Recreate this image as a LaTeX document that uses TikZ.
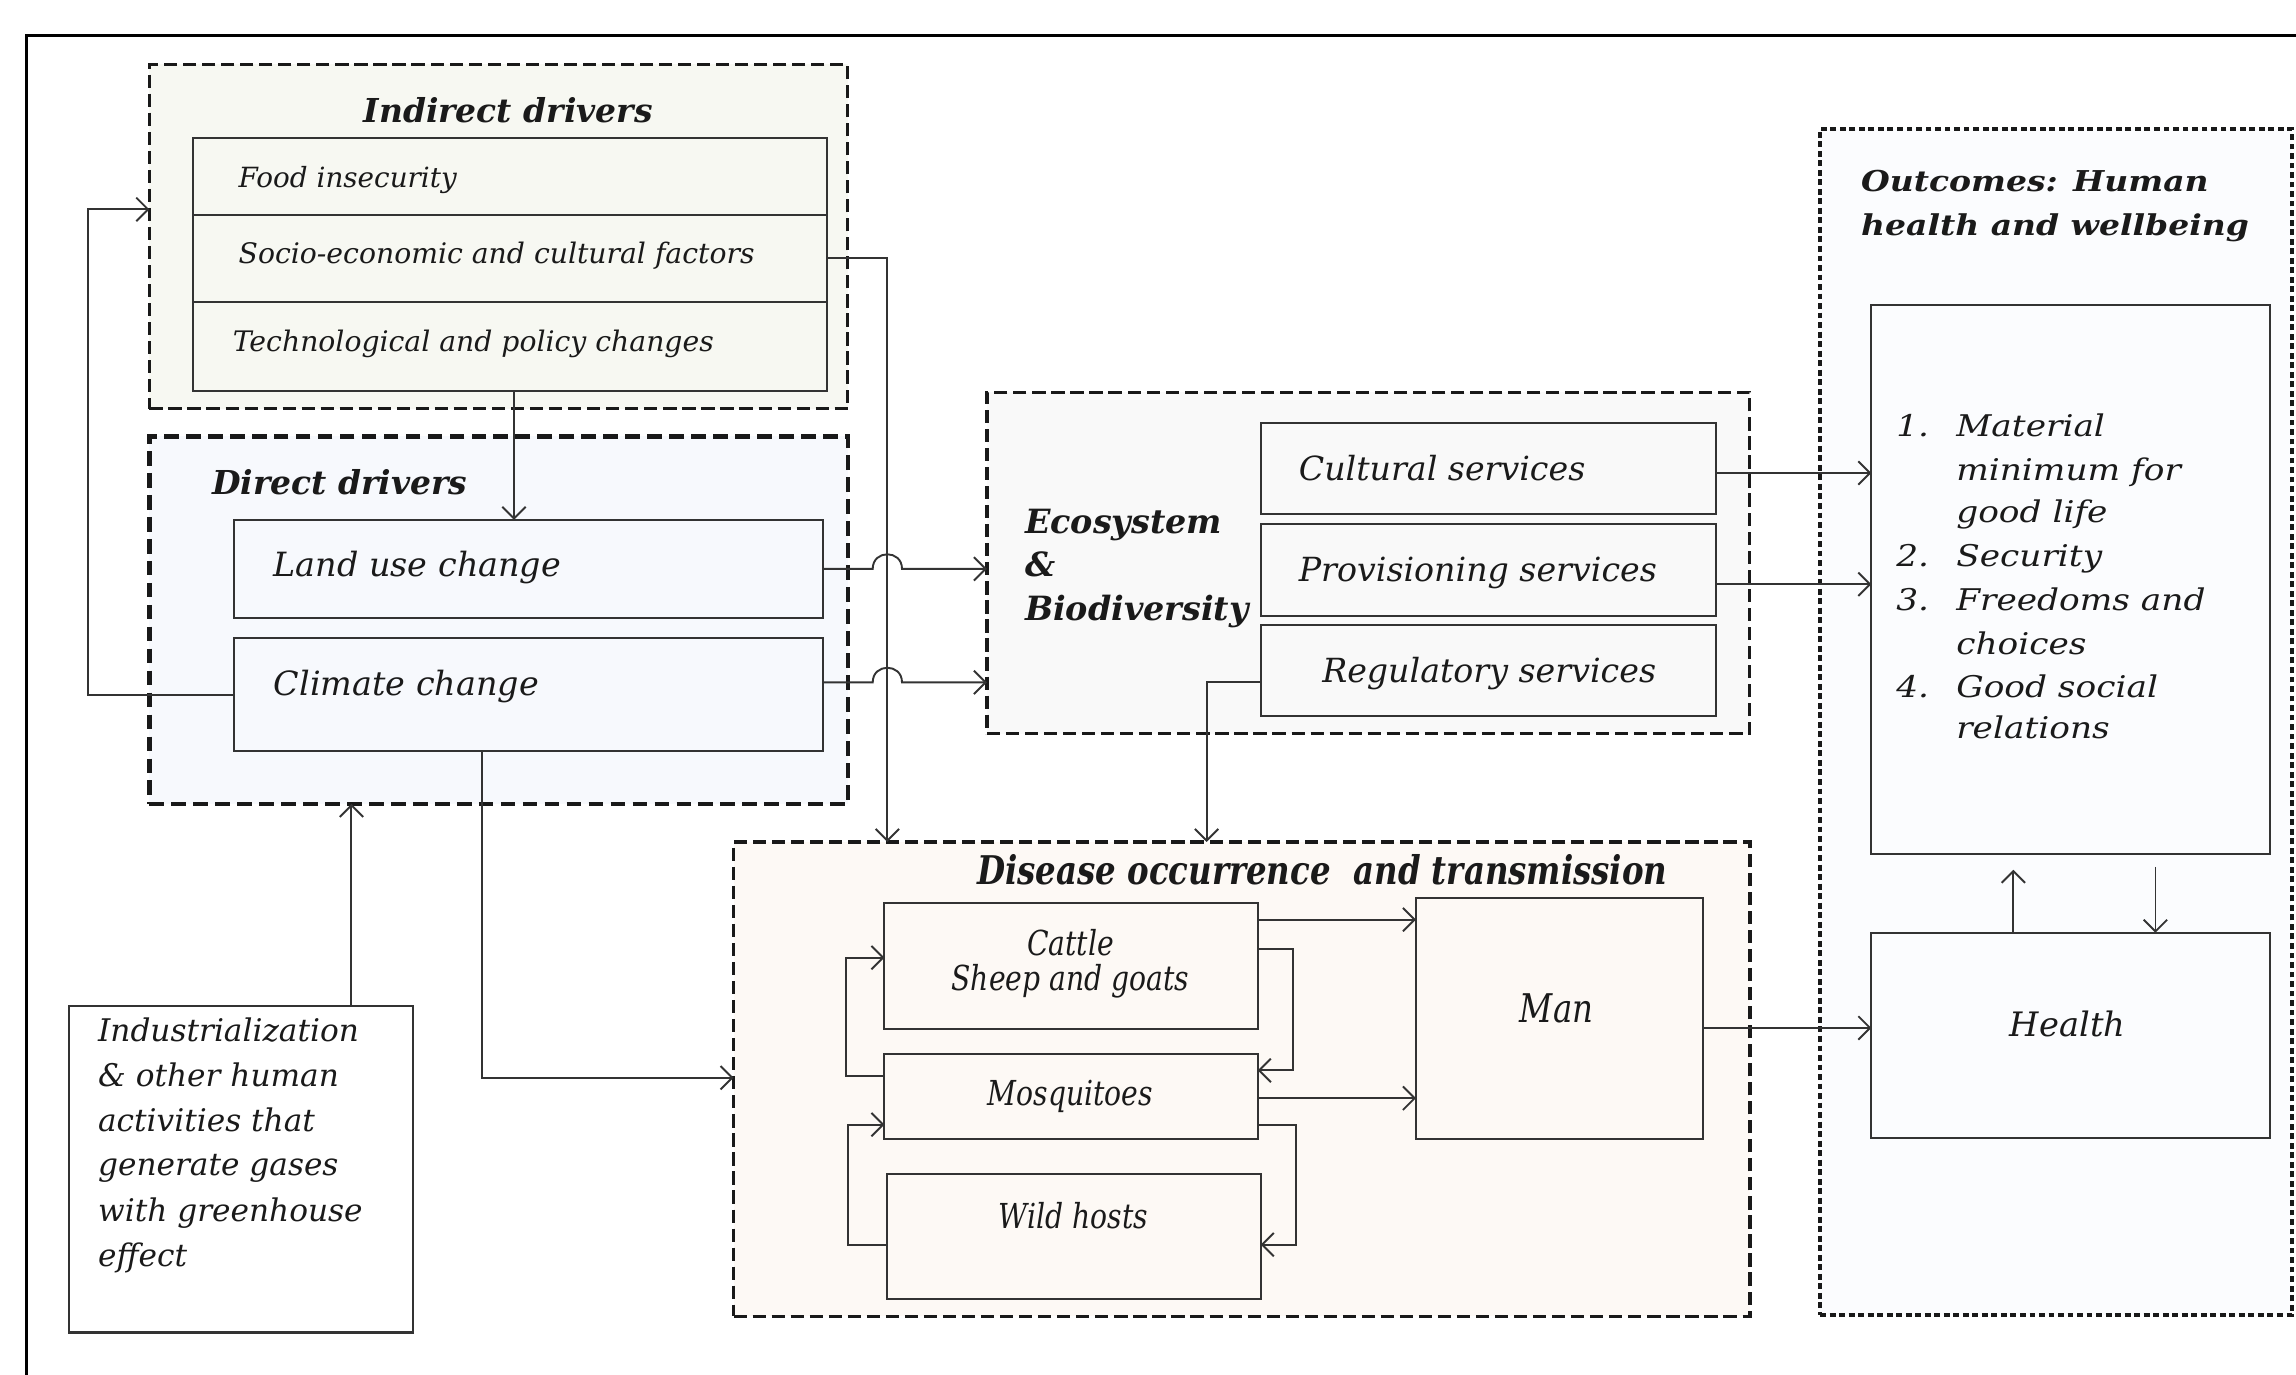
\documentclass[tikz,border=0pt]{standalone}
\usepackage{fontspec}
\setmainfont{DejaVu Serif}
\newfontfamily\condf[FakeStretch=0.82]{DejaVu Serif}
\newfontfamily\widef[FakeStretch=1.15]{DejaVu Serif}
\usetikzlibrary{arrows.meta}
\definecolor{indfill}{HTML}{F7F8F2}
\definecolor{dirfill}{HTML}{F7F9FD}
\definecolor{ecofill}{HTML}{F9F9F9}
\definecolor{outfill}{HTML}{FBFCFE}
\definecolor{disfill}{HTML}{FDF9F5}
\definecolor{linec}{HTML}{333333}
\definecolor{txt}{HTML}{1A1A1A}
\newcommand\fs[1]{\fontsize{#1}{1.2\dimexpr#1pt\relax}\selectfont}
\begin{document}
\begin{tikzpicture}[x=1pt,y=-1pt,
  box/.style={draw=linec, line width=1.4pt, inner sep=0pt, outer sep=0pt},
  grp/.style={draw=black!90, inner sep=0pt, outer sep=0pt},
  lbl/.style={inner sep=0pt, outer sep=0pt, text=txt},
  arr/.style={draw=linec, line width=1.3pt, -{Straight Barb[length=8pt,width=16pt]}},
]
\useasboundingbox (0,0) rectangle (1568,939);
\fill[white] (0,0) rectangle (1568,939);
\draw[black, line width=2pt] (18,939) -- (18,24) -- (1568,24);

% group boxes
\node[grp, fill=indfill, line width=2pt, dash pattern=on 9pt off 4pt, minimum width=477pt, minimum height=235pt] (ind) at (340.5,161.5) {};
\node[grp, fill=dirfill, line width=3pt, dash pattern=on 10pt off 5pt, minimum width=477pt, minimum height=251pt] (dir) at (340.5,423.5) {};
\node[grp, fill=ecofill, line width=2.2pt, dash pattern=on 9pt off 4pt, minimum width=521pt, minimum height=233pt] (eco) at (934.5,384.5) {};
\node[grp, fill=outfill, line width=2.8pt, dash pattern=on 4pt off 2.5pt, minimum width=322pt, minimum height=810pt] (out) at (1404,493) {};
\node[grp, fill=disfill, line width=2.5pt, dash pattern=on 9pt off 4pt, minimum width=694pt, minimum height=324pt] (dis) at (848,737) {};

% inner boxes
\node[box, fill=indfill, minimum width=433pt, minimum height=53pt] (food) at (348.5,120.5) {};
\node[box, fill=indfill, minimum width=433pt, minimum height=59pt] (socio) at (348.5,176.5) {};
\node[box, fill=indfill, minimum width=433pt, minimum height=61pt] (tech) at (348.5,236.5) {};
\node[box, fill=dirfill, minimum width=402pt, minimum height=67pt] (land) at (361,388.5) {};
\node[box, fill=dirfill, minimum width=402pt, minimum height=77pt] (clim) at (361,474.5) {};
\node[box, fill=white, minimum width=235pt, minimum height=223pt] (indus) at (164.5,798.5) {};
\node[box, fill=ecofill, minimum width=311pt, minimum height=62pt] (cult) at (1016.5,320) {};
\node[box, fill=ecofill, minimum width=311pt, minimum height=63pt] (prov) at (1016.5,389.5) {};
\node[box, fill=ecofill, minimum width=311pt, minimum height=62pt] (reg) at (1016.5,458) {};
\node[box, fill=outfill, minimum width=272pt, minimum height=375pt] (list) at (1414,395.5) {};
\node[box, fill=outfill, minimum width=272pt, minimum height=140pt] (health) at (1414,707) {};
\node[box, fill=disfill, minimum width=255pt, minimum height=86pt] (cattle) at (731.5,660) {};
\node[box, fill=disfill, minimum width=255pt, minimum height=58pt] (mosq) at (731.5,749) {};
\node[box, fill=disfill, minimum width=255pt, minimum height=85pt] (wild) at (733.5,844.5) {};
\node[box, fill=disfill, minimum width=196pt, minimum height=165pt] (man) at (1065,695.5) {};

% connectors
\draw[arr] (tech.south -| 351,0) -- (land.north -| 351,0);
\draw[arr] (clim.west) -- (60,474.5) -- (60,143) -- (ind.west |- 0,143);
\draw[arr] (socio.east) -| (dis.north -| 606,0);
\draw[arr] (land.east) -- (596,388.5) .. controls (596,375.2) and (616,375.2) .. (616,388.5) -- (eco.west |- land.east);
\draw[arr] (clim.east |- 0,466) -- (596,466) .. controls (596,452.7) and (616,452.7) .. (616,466) -- (eco.west |- 0,466);
\draw[arr] (clim.south -| 329,0) |- (dis.west |- 0,736);
\draw[arr] (indus.north -| 240,0) -- (dir.south -| 240,0);
\draw[arr] (cult.east |- 0,323) -- (list.west |- 0,323);
\draw[arr] (prov.east |- 0,399) -- (list.west |- 0,399);
\draw[arr] (reg.west |- 0,466) -| (dis.north -| 824,0);
\draw[arr] (man.east |- 0,702) -- (health.west |- 0,702);
\coordinate (upend) at (1375,594);
\coordinate (downstart) at (1472,592);
\draw[arr] (health.north -| 1375,0) -- (upend);
\draw[arr] (downstart) -- (health.north -| 1472,0);
\draw[arr] (cattle.east |- 0,628) -- (man.west |- 0,628);
\draw[arr] (mosq.east |- 0,750) -- (man.west |- 0,750);
\draw[arr] (cattle.east |- 0,648) -- (883,648) -- (883,731) -- (mosq.east |- 0,731);
\draw[arr] (mosq.east |- 0,768) -- (885,768) -- (885,850) -- (wild.east |- 0,850);
\draw[arr] (mosq.west |- 0,735) -- (578,735) -- (578,654) -- (cattle.west |- 0,654);
\draw[arr] (wild.west |- 0,850) -- (579,850) -- (579,768) -- (mosq.west |- 0,768);

% texts
\node[lbl, anchor=base, font=\bfseries\itshape\fs{22.5}] (tind) at (347,84) {Indirect drivers};
\node[lbl, anchor=base west, font=\itshape\fs{19}] (tfood) at (163,128) {Food insecurity};
\node[lbl, anchor=base west, font=\itshape\fs{19.3}] (tsocio) at (163,180) {Socio-economic and cultural factors};
\node[lbl, anchor=base west, font=\itshape\fs{19.3}] (ttech) at (159,240) {Technological and policy changes};
\node[lbl, anchor=base west, font=\bfseries\itshape\fs{22.5}] (tdir) at (145,338) {Direct drivers};
\node[lbl, anchor=base west, font=\itshape\fs{22.8}] (tland) at (187,394) {Land use change};
\node[lbl, anchor=base west, font=\itshape\fs{22.8}] (tclim) at (187,475) {Climate change};
\node[lbl, anchor=base west, font=\bfseries\itshape\fs{22.8}] (teco1) at (700,364) {Ecosystem};
\node[lbl, anchor=base west, font=\bfseries\itshape\fs{22.8}] (teco2) at (700,394) {\&};
\node[lbl, anchor=base west, font=\bfseries\itshape\fs{22.8}] (teco3) at (700,424) {Biodiversity};
\node[lbl, anchor=base west, font=\itshape\fs{22.7}] (tcult) at (887,328) {Cultural services};
\node[lbl, anchor=base west, font=\itshape\fs{22.7}] (tprov) at (887,397) {Provisioning services};
\node[lbl, anchor=base west, font=\itshape\fs{22.7}] (treg) at (903,466) {Regulatory services};
\node[lbl, anchor=base west, font=\widef\bfseries\itshape\fs{19.6}] (tout1) at (1271,131) {Outcomes: Human};
\node[lbl, anchor=base west, font=\widef\bfseries\itshape\fs{19.6}] (tout2) at (1271,161) {health and wellbeing};
\node[lbl, anchor=base west, font=\widef\itshape\fs{20.4}] (n1) at (1295,298) {1.};
\node[lbl, anchor=base west, font=\widef\itshape\fs{20.4}] (l1) at (1336,298) {Material};
\node[lbl, anchor=base west, font=\widef\itshape\fs{20.4}] (l2) at (1336,328) {minimum for};
\node[lbl, anchor=base west, font=\widef\itshape\fs{20.4}] (l3) at (1336,357) {good life};
\node[lbl, anchor=base west, font=\widef\itshape\fs{20.4}] (n2) at (1295,387) {2.};
\node[lbl, anchor=base west, font=\widef\itshape\fs{20.4}] (l4) at (1336,387) {Security};
\node[lbl, anchor=base west, font=\widef\itshape\fs{20.4}] (n3) at (1295,417) {3.};
\node[lbl, anchor=base west, font=\widef\itshape\fs{20.4}] (l5) at (1336,417) {Freedoms and};
\node[lbl, anchor=base west, font=\widef\itshape\fs{20.4}] (l6) at (1336,447) {choices};
\node[lbl, anchor=base west, font=\widef\itshape\fs{20.4}] (n4) at (1295,476) {4.};
\node[lbl, anchor=base west, font=\widef\itshape\fs{20.4}] (l7) at (1336,476) {Good social};
\node[lbl, anchor=base west, font=\widef\itshape\fs{20.4}] (l8) at (1336,504) {relations};
\node[lbl, anchor=base, font=\itshape\fs{23}] (thealth) at (1412,708) {Health};
\node[lbl, anchor=base, font=\condf\bfseries\itshape\fs{27}] (tdis) at (903,604) {Disease occurrence\ \ and transmission};
\node[lbl, anchor=base, font=\condf\itshape\fs{23.5}] (tcat1) at (731,652.5) {Cattle};
\node[lbl, anchor=base, font=\condf\itshape\fs{23.5}] (tcat2) at (731,676.5) {Sheep and goats};
\node[lbl, anchor=base, font=\condf\itshape\fs{23.5}] (tmosq) at (731,755) {Mosquitoes};
\node[lbl, anchor=base, font=\condf\itshape\fs{23.5}] (twild) at (733,839) {Wild hosts};
\node[lbl, anchor=base, font=\condf\itshape\fs{27}] (tman) at (1063,698) {Man};
\node[lbl, anchor=base west, font=\itshape\fs{21.3}] (i1) at (67,711) {Industrialization};
\node[lbl, anchor=base west, font=\itshape\fs{21.3}] (i2) at (67,742) {\& other human};
\node[lbl, anchor=base west, font=\itshape\fs{21.3}] (i3) at (67,773) {activities that};
\node[lbl, anchor=base west, font=\itshape\fs{21.3}] (i4) at (67,803) {generate gases};
\node[lbl, anchor=base west, font=\itshape\fs{21.3}] (i5) at (67,834) {with greenhouse};
\node[lbl, anchor=base west, font=\itshape\fs{21.3}] (i6) at (67,865) {effect};
\end{tikzpicture}
\end{document}
